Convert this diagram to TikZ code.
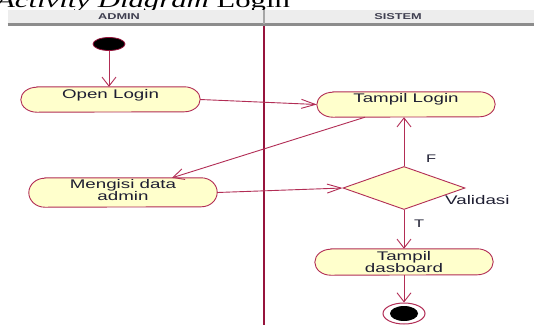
\documentclass[tikz,border=0pt]{standalone}
\usepackage{fontspec}
\newfontfamily\uifont{Liberation Sans}[FakeStretch=1.5]
\newfontfamily\capfont{Liberation Serif}[FakeStretch=1.5]
\usetikzlibrary{arrows.meta,shapes.geometric,calc}
\pgfdeclarelayer{bg}
\pgfsetlayers{bg,main}
\definecolor{lanecol}{RGB}{150,20,60}
\definecolor{edgecol}{RGB}{178,45,85}
\definecolor{actfill}{RGB}{255,255,204}
\definecolor{hdrfill}{RGB}{237,237,237}
\definecolor{hdrline}{RGB}{140,140,140}
\definecolor{ink}{RGB}{30,30,50}
\tikzset{
  act/.style={rectangle, inner sep=0pt, text=ink,
    font=\uifont\fontsize{12.5}{12}\selectfont, align=center},
  lbl/.style={inner sep=0pt, text=ink, font=\uifont\fontsize{12.5}{12}\selectfont},
  hdrtxt/.style={inner sep=0pt, text=ink!85, font=\uifont\bfseries\fontsize{8.5}{9}\selectfont},
  flow/.style={draw=edgecol, line width=0.9pt},
  htip/.style={-{Straight Barb[length=14pt,width=9pt]}},
  vtip/.style={-{Straight Barb[length=9pt,width=14pt]}},
  dtip/.style={-{Straight Barb[length=11pt,width=11pt]}},
}
\begin{document}
\begin{tikzpicture}[x=1pt,y=-1pt]
\useasboundingbox (0,0) rectangle (534,325);
\begin{pgfonlayer}{bg}
\fill[white] (0,0) rectangle (534,325);
\end{pgfonlayer}

% caption above the diagram
\node[anchor=base west, inner sep=0pt, font=\capfont\fontsize{20.5}{24}\selectfont] (cap)
  at (-4,7) {\textit{Activity Diagram} Login};

% swimlane header
\fill[hdrfill] (7.5,10) rectangle (534,23.5);
\draw[hdrline, line width=2.5pt] (7.5,24.5) -- (534,24.5);
\draw[gray!70, line width=2pt] (264,10) -- (264,23.5);
\node[hdrtxt] (hadmin) at (119,17) {ADMIN};
\node[hdrtxt] (hsistem) at (398,17) {SISTEM};

% lane divider
\draw[lanecol, line width=1.6pt] (264,26) -- (264,325);

% start and end
\node[ellipse, draw=lanecol, fill=black, line width=0.8pt, minimum width=32pt,
  minimum height=13pt, inner sep=0pt] (st) at (109,44) {};
\node[ellipse, draw=edgecol, fill=white, line width=1pt, minimum width=42pt,
  minimum height=21pt, inner sep=0pt] (en) at (404,313.5) {};
\fill[black] (en.center) ellipse [x radius=14pt, y radius=7.5pt];

% activities (box baseline sits on the last text line)
\node[act, minimum width=179pt, minimum height=25pt, text height=11pt, text depth=14pt]
  (ol) at (110.5,99.5) {Open Login};
\node[act, minimum width=178pt, minimum height=25pt, text height=10pt, text depth=15pt]
  (tl) at (406,104.5) {Tampil Login};
\node[act, minimum width=188pt, minimum height=29pt, text height=22pt, text depth=7pt]
  (md) at (123,192.5) {Mengisi data\\admin};
\node[act, minimum width=178pt, minimum height=26pt, text height=23pt, text depth=3pt]
  (td) at (404,262) {Tampil\\dasboard};

% decision
\node[diamond, draw=edgecol, fill=actfill, line width=0.9pt, minimum width=122pt,
  minimum height=43pt, inner sep=0pt] (dv) at (404,188) {};

% activity outlines, drawn behind their texts
\begin{pgfonlayer}{bg}
\foreach \n/\h in {ol/12.5, tl/12.5, md/14.5, td/13}{
  \path[draw=edgecol, fill=actfill, line width=0.9pt]
    ($(\n.north west)+(16,0)$) -- ($(\n.north east)+(-16,0)$)
    arc[start angle=90, end angle=-90, x radius=16pt, y radius=\h pt]
    -- ($(\n.south west)+(16,0)$)
    arc[start angle=270, end angle=90, x radius=16pt, y radius=\h pt] -- cycle;
}
\end{pgfonlayer}

% flows
\draw[flow, vtip] (st.south) -- (st.south |- ol.north);
\draw[flow, htip] (ol.east) -- (tl.west);
\draw[flow, dtip] ($(tl.south)+(-41,0)$) -- ($(md.north)+(49,0)$);
\draw[flow, htip] (md.east) -- (dv.west);
\draw[flow, vtip] (dv.north) -- (dv.north |- tl.south);
\draw[flow, vtip] (dv.south) -- (td.north);
\draw[flow, vtip] (td.south) -- (en.north);

% guard labels
\node[lbl, font=\uifont\fontsize{11}{11}\selectfont, anchor=base west] (lf) at (426,162) {F};
\node[lbl, font=\uifont\fontsize{11}{11}\selectfont, anchor=base west] (lt) at (414,227) {T};
\node[lbl, anchor=base west] (lv) at (445,204) {Validasi};
\end{tikzpicture}
\end{document}
